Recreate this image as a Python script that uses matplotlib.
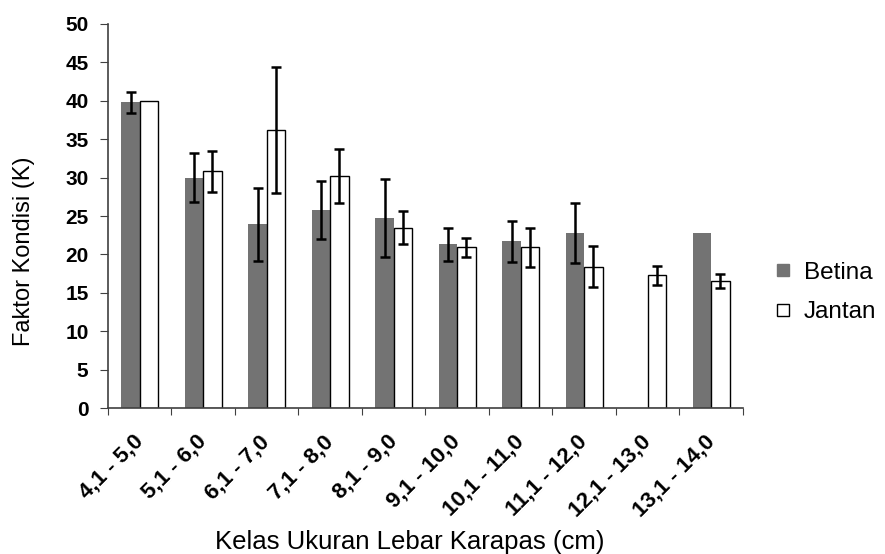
import numpy as np
import matplotlib
matplotlib.use("Agg")
import matplotlib.pyplot as plt
from matplotlib.lines import Line2D

# data
kelas = ['4,1 - 5,0', '5,1 - 6,0', '6,1 - 7,0', '7,1 - 8,0', '8,1 - 9,0',
         '9,1 - 10,0', '10,1 - 11,0', '11,1 - 12,0', '12,1 - 13,0', '13,1 - 14,0']
betina = [39.8, 30.0, 23.9, 25.8, 24.7, 21.3, 21.7, 22.8, 0.0, 22.8]
betina_err = [1.4, 3.2, 4.8, 3.75, 5.1, 2.1, 2.65, 3.9, 0.0, 0.0]
jantan = [40.0, 30.8, 36.2, 30.2, 23.5, 20.9, 20.9, 18.4, 17.3, 16.5]
jantan_err = [0.0, 2.7, 8.2, 3.5, 2.1, 1.3, 2.55, 2.65, 1.25, 0.9]

plt.rcParams['font.family'] = ['Liberation Sans', 'DejaVu Sans']

fig = plt.figure(figsize=(8.85, 5.54), dpi=100)
ax = fig.add_axes([0.122, 0.2635, 0.7175, 0.6932])

x = np.arange(len(kelas))
w = 0.29
ekw = dict(ecolor='black', elinewidth=1.8, capsize=3.6, capthick=1.8)

# only draw error bars where there is one
b_err = [e if e > 0 else np.nan for e in betina_err]
j_err = [e if e > 0 else np.nan for e in jantan_err]

ax.bar(x - w/2, betina, w, color='#737373', edgecolor='none', zorder=2)
ax.bar(x + w/2, jantan, w, color='white', edgecolor='black', linewidth=1, zorder=2)
ax.errorbar(x - w/2, betina, yerr=b_err, fmt='none', zorder=3, **ekw)
ax.errorbar(x + w/2, jantan, yerr=j_err, fmt='none', zorder=3, **ekw)

ax.set_xlim(-0.5, len(kelas) - 0.5)
ax.set_ylim(0, 50)
ax.set_yticks(np.arange(0, 51, 5))
ax.set_yticklabels([str(v) for v in range(0, 51, 5)], fontsize=15, fontweight='bold')

# ticks between categories, labels at category centres
ax.set_xticks(np.arange(len(kelas) + 1) - 0.5)
ax.set_xticklabels([])
ax.set_xticks(x, minor=True)
ax.set_xticklabels(kelas, minor=True, rotation=45, ha='right', va='center',
                   rotation_mode='anchor', fontsize=16, fontweight='bold')
ax.tick_params(axis='x', which='minor', length=0, pad=22)
ax.tick_params(axis='x', which='major', direction='out', length=5, color='#404040')
ax.tick_params(axis='y', direction='out', length=6, pad=8, color='#404040')

for s in ['top', 'right']:
    ax.spines[s].set_visible(False)
for s in ['left', 'bottom']:
    ax.spines[s].set_color('#404040')
    ax.spines[s].set_linewidth(1.2)

ax.set_xlabel('Kelas Ukuran Lebar Karapas (cm)', fontsize=18.5)
ax.xaxis.set_label_coords(0.475, -0.318)
ax.set_ylabel('Faktor Kondisi (K)', fontsize=17, va='center')
ax.yaxis.set_label_coords(-0.132, 0.4076)

handles = [Line2D([], [], marker='s', linestyle='none', markersize=9,
                  markerfacecolor='#737373', markeredgecolor='#737373'),
           Line2D([], [], marker='s', linestyle='none', markersize=9,
                  markerfacecolor='white', markeredgecolor='black', markeredgewidth=1)]
fig.legend(handles, ['Betina', 'Jantan'], loc='center left', bbox_to_anchor=(0.863, 0.472),
           frameon=False, fontsize=17.5, handlelength=0.8, handletextpad=0.45,
           labelspacing=0.7, borderaxespad=0)

fig.savefig('out.png', dpi=100)
